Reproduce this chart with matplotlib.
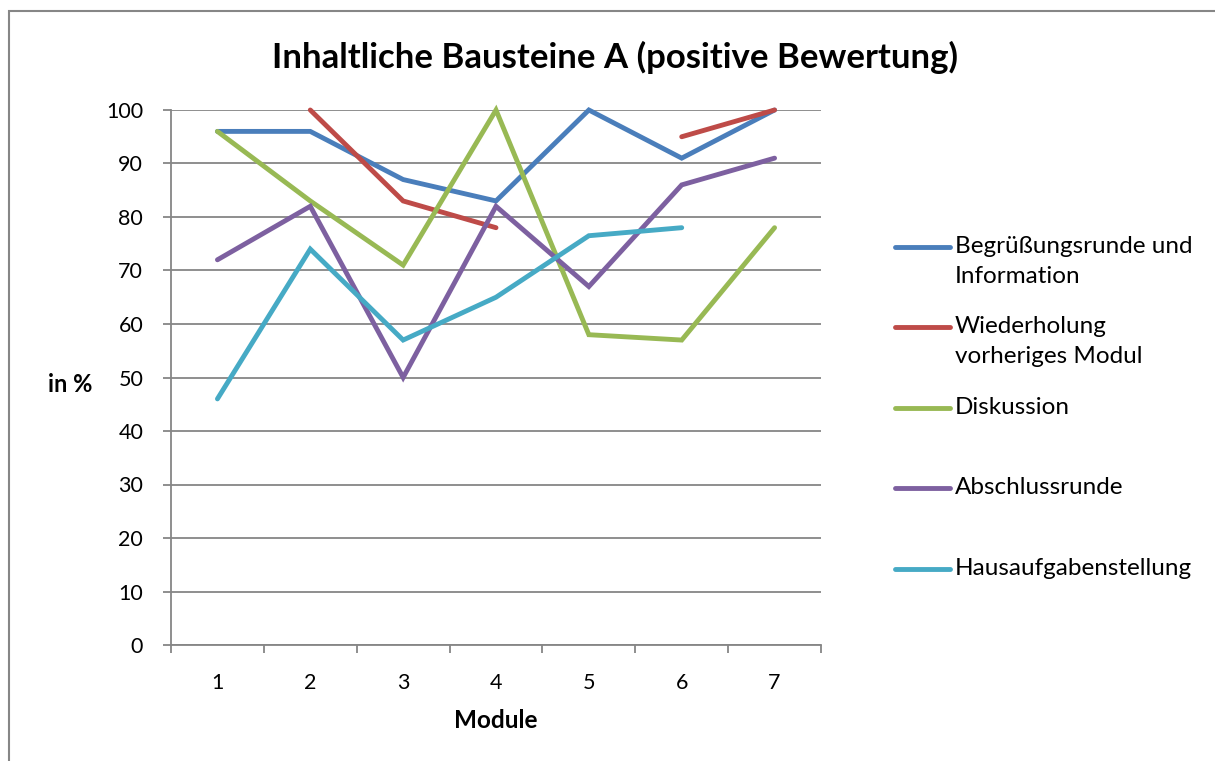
import matplotlib.pyplot as plt
from matplotlib.lines import Line2D
from matplotlib.patches import Rectangle
import numpy as np

plt.rcParams['font.family'] = ['Lato', 'DejaVu Sans']

# data
modules = [1, 2, 3, 4, 5, 6, 7]
begruessung = [96, 96, 87, 83, 100, 91, 100]
wiederholung = [np.nan, 100, 83, 78, np.nan, 95, 100]
diskussion = [96, 83, 71, 100, 58, 57, 78]
abschluss = [72, 82, 50, 82, 67, 86, 91]
hausaufgaben = [46, 74, 57, 65, 76.5, 78, np.nan]

series_names = ['Begrüßungsrunde und\nInformation', 'Wiederholung\nvorheriges Modul',
                'Diskussion', 'Abschlussrunde', 'Hausaufgabenstellung']
series_values = [begruessung, wiederholung, diskussion, abschluss, hausaufgaben]
colors = ['#4A7EBB', '#BE4B48', '#98B954', '#7D60A0', '#46AAC5']

W, H = 1215, 761
fig = plt.figure(figsize=(W / 100, H / 100), dpi=100)
ax = fig.add_axes([171 / W, 116 / H, 650 / W, 535 / H])

grid_col = '#868686'

for vals, col in zip(series_values, colors):
    ax.plot(modules, vals, color=col, lw=3.5, solid_capstyle='round',
            solid_joinstyle='miter', clip_on=False, zorder=3)

ax.set_xlim(0.5, 7.5)
ax.set_ylim(0, 100)
ax.set_yticks(range(0, 101, 10))
ax.set_xticks(modules)
ax.set_xticks(np.arange(0.5, 8, 1), minor=True)
ax.tick_params(axis='x', which='major', length=0, pad=20, labelsize=15.5)
ax.tick_params(axis='x', which='minor', length=6, width=1.3, color=grid_col, direction='out')
ax.tick_params(axis='y', length=6, width=1.3, color=grid_col, pad=14, labelsize=15.5)
ax.grid(axis='y', color=grid_col, lw=1.3, zorder=1)
ax.set_axisbelow(True)
for s in ['top', 'right']:
    ax.spines[s].set_visible(False)
for s in ['left', 'bottom']:
    ax.spines[s].set_color(grid_col)
    ax.spines[s].set_linewidth(1.3)

ax.set_xlabel('Module', fontsize=17.5, fontweight='bold', labelpad=12)
fig.text(70 / W, 1 - 385 / H, 'in %', fontsize=17, fontweight='bold', ha='center', va='center')

fig.text(615 / W, 1 - 57 / H, 'Inhaltliche Bausteine A (positive Bewertung)',
         fontsize=25, fontweight='bold', ha='center', va='center')

# legend drawn by hand so the line sits beside the first text line
legend_y = [246.7, 327, 408, 488, 569]
for name, col, ly in zip(series_names, colors, legend_y):
    fig.add_artist(Line2D([895 / W, 950 / W], [1 - ly / H, 1 - ly / H], color=col, lw=3.5,
                          solid_capstyle='round', transform=fig.transFigure))
    fig.text(955 / W, 1 - (ly - 11) / H, name, fontsize=17.5, ha='left', va='top', linespacing=1.55)

# chart frame
fig.add_artist(Rectangle((9 / W, -0.05), 1.1, 1 - 11 / H + 0.05, transform=fig.transFigure,
                         fill=False, edgecolor=grid_col, lw=1.5))

fig.savefig('out.png', dpi=100, facecolor='white')
